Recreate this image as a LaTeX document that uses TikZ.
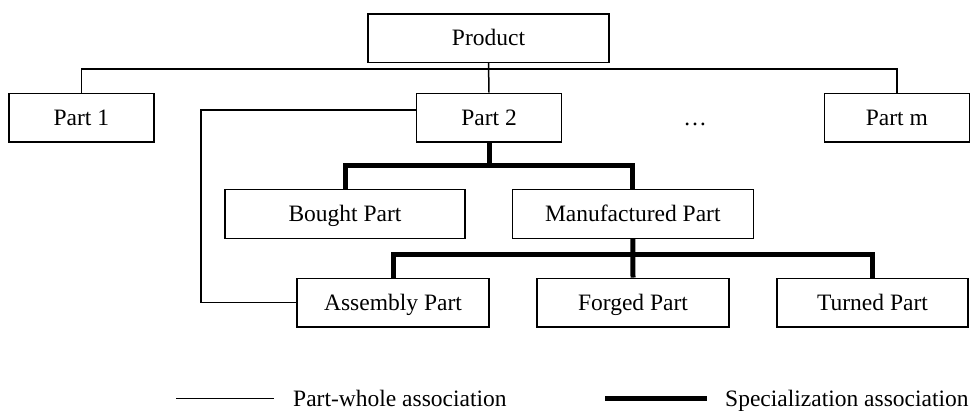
\documentclass[tikz,border=0pt]{standalone}
\usepackage{fontspec}
\setmainfont{Liberation Serif}
\begin{document}
\begin{tikzpicture}[x=1pt,y=-1pt,
  box/.style={draw,line width=1.5pt,inner sep=0pt,minimum height=48.5pt,
    font=\fontsize{23.5}{26}\selectfont,text height=15pt,text depth=0pt},
  thin/.style={line width=1.5pt},
  spec/.style={line width=5pt},
  lbl/.style={inner sep=0pt,font=\fontsize{23.5}{26}\selectfont}]
\useasboundingbox (0,0) rectangle (974,410);
\node[box,minimum width=241pt] (product) at (488.5,38) {Product};
\node[box,minimum width=145pt] (part1) at (81.3,117.5) {Part 1};
\node[box,minimum width=145pt] (part2) at (489,117.5) {Part 2};
\node[box,minimum width=145pt] (partm) at (896.8,117.5) {Part m};
\node[lbl,text height=15pt,text depth=0pt] (dots) at (695,117.5) {…};
\node[box,minimum width=240pt,minimum height=49pt] (bought) at (345,213.8) {Bought Part};
\node[box,minimum width=241pt,minimum height=49pt] (manuf) at (632.8,213.8) {Manufactured Part};
\node[box,minimum width=192pt] (assembly) at (393,302.5) {Assembly Part};
\node[box,minimum width=192pt] (forged) at (633,302.5) {Forged Part};
\node[box,minimum width=191pt] (turned) at (872.5,302.5) {Turned Part};
% part-whole
\coordinate (pbar) at (489,69);
\coordinate (pw) at (201,110);
\draw[thin] (product.south) -- (part2.north);
\draw[thin] (part1.north) |- (pbar) -| (partm.north);
\draw[thin] ([yshift=7.5pt]part2.west) -- (pw) |- (assembly.west);
% specialization
\coordinate (s1) at (489,165);
\coordinate (s2) at (633,254);
\draw[spec] (part2.south) -- (s1);
\draw[spec] (bought.north) |- (s1) -| (manuf.north);
\draw[spec] (manuf.south) -- (forged.north);
\draw[spec] (assembly.north) |- (s2) -| (turned.north);
% legend
\coordinate (la) at (176,398.5);
\coordinate (lb) at (274,398.5);
\coordinate (lc) at (605,398.5);
\coordinate (ld) at (707,398.5);
\draw[thin] (la) -- (lb);
\draw[spec] (lc) -- (ld);
\node[lbl,anchor=base west] (l1) at (293,406.5) {Part-whole association};
\node[lbl,anchor=base west] (l2) at (725,406.5) {Specialization association};
\end{tikzpicture}
\end{document}
